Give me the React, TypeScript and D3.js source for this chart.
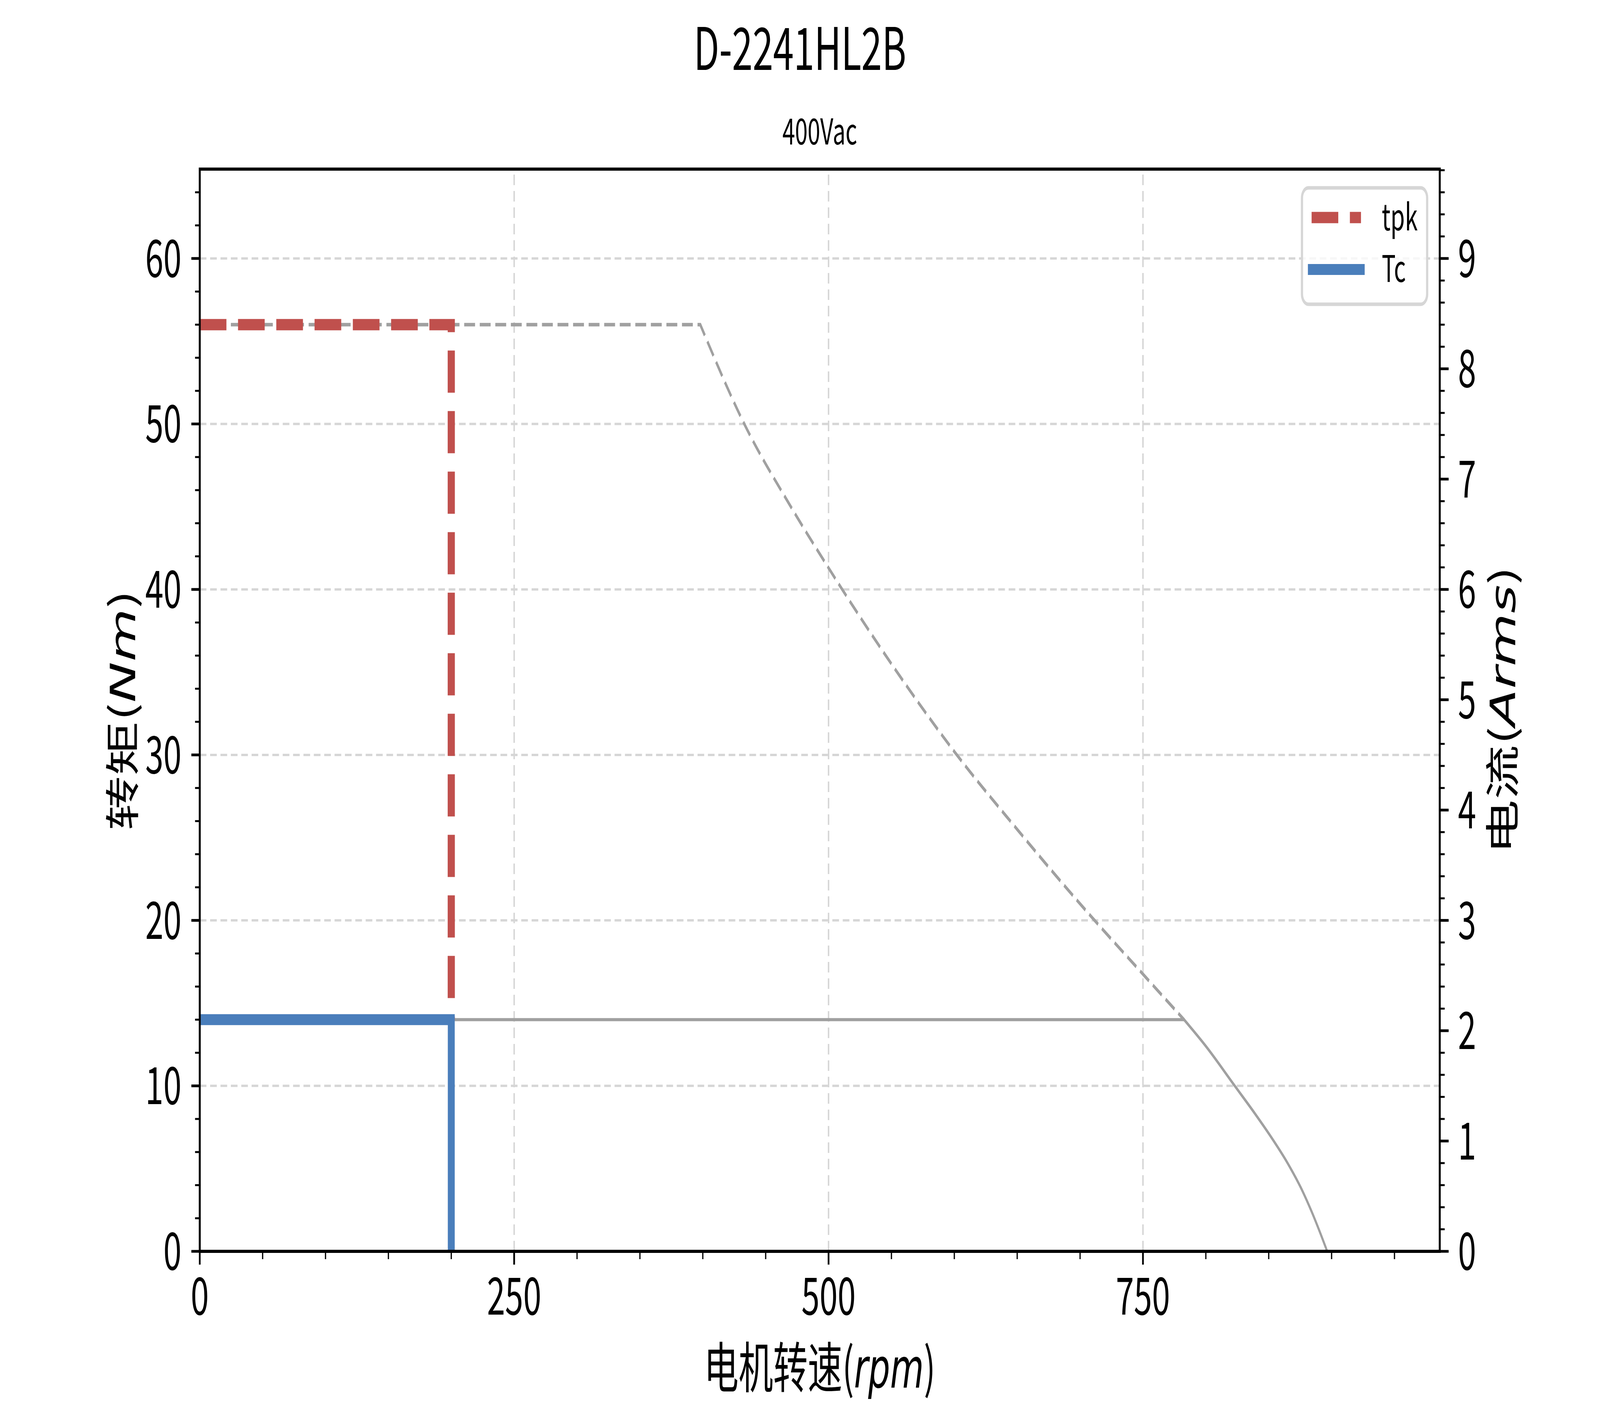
import React from "react";
import * as d3 from "d3";

// ---- data ----
const titleText = "D-2241HL2B";
const subtitleText = "400Vac";
const legendLabels = ["tpk", "Tc"];

// peak torque envelope (grey dashed)
const peakSpeed = [0, 398, 433, 470, 500, 550, 600, 650, 700, 750, 782.7];
const peakTorque = [56, 56, 50, 45.0, 41.3, 35.5, 30.2, 25.5, 21.0, 16.75, 14];

// continuous torque envelope (grey solid)
const contSpeed = [0, 782.7, 800.3, 823, 838.8, 851.1, 865.1, 875.6, 884.3, 890.5, 896.5];
const contTorque = [14, 14, 12.37, 10, 8.35, 7.0, 5.32, 3.84, 2.37, 1.2, 0];

// operating point lines
const tpkSpeed = [0, 200, 200];
const tpkTorque = [56, 56, 14];
const tcSpeed = [0, 200, 200];
const tcTorque = [14, 14, 0];

// axes
const xDomain = [0, 986];
const yLeftDomain = [0, 65.4];
const yRightDomain = [0, 9.81];
const xTickValues = [0, 250, 500, 750];
const yLeftTickValues = [0, 10, 20, 30, 40, 50, 60];
const yRightTickValues = [0, 1, 2, 3, 4, 5, 6, 7, 8, 9];

const W = 6480;
const H = 3600;
const L = 809;
const R = 5831;
const T = 433;
const B = 3204;

const CJK = '"Noto Sans CJK SC", sans-serif';
const MATH = '"DejaVu Sans", sans-serif';

export default function App() {
  const x = d3.scaleLinear().domain(xDomain).range([L, R]);
  const yL = d3.scaleLinear().domain(yLeftDomain).range([B, T]);
  const yR = d3.scaleLinear().domain(yRightDomain).range([B, T]);

  // straight first segment (flat), smooth monotone curve afterwards
  const envelope = (xs: number[], ys: number[]) => {
    const pts: [number, number][] = xs.map((v, i) => [x(v), yL(ys[i])]);
    const curve = d3.line().curve(d3.curveMonotoneX)(pts.slice(1)) as string;
    return `M${pts[0][0]},${pts[0][1]}L${pts[1][0]},${pts[1][1]}` + curve.replace(/^M[^LC]*/, "");
  };
  const line = (xs: number[], ys: number[]) =>
    d3
      .line<number>()
      .x((_, i) => x(xs[i]))
      .y((_, i) => yL(ys[i]))(xs) as string;

  const xMinor = d3.range(0, xDomain[1] + 0.001, 50).filter((v) => !xTickValues.includes(v));
  const yLMinor = d3.range(0, 33).map((i) => i * 2).filter((v) => v <= yLeftDomain[1] && v % 10 !== 0);
  const yRMinor = d3.range(0, 50).map((i) => +(i * 0.2).toFixed(1)).filter((v) => v <= yRightDomain[1] && Math.abs(v - Math.round(v)) > 1e-6);

  const gridColor = "#d6d6d6";
  const grey = "#a0a0a0";
  const red = "#c0504d";
  const blue = "#4a7ebb";

  return (
    <svg
      viewBox={`0 0 ${W} ${H}`}
      preserveAspectRatio="none"
      style={{ position: "fixed", left: 0, top: 0, width: "100vw", height: "100vh", background: "#fff", display: "block" }}
    >
      <rect x={0} y={0} width={W} height={H} fill="#fff" />
      <defs>
        <clipPath id="plotclip">
          <rect x={L} y={T} width={R - L} height={B - T} />
        </clipPath>
      </defs>

      {/* grid */}
      <g stroke={gridColor} strokeWidth={6} strokeDasharray="27 15">
        {xTickValues.filter((v) => v > 0).map((v) => (
          <line key={"gx" + v} x1={x(v)} x2={x(v)} y1={B} y2={T} />
        ))}
        {yLeftTickValues.filter((v) => v > 0).map((v) => (
          <line key={"gy" + v} x1={L} x2={R} y1={yL(v)} y2={yL(v)} />
        ))}
      </g>

      {/* curves */}
      <g clipPath="url(#plotclip)" fill="none">
        <path d={envelope(peakSpeed, peakTorque)} stroke={grey} strokeWidth={9} strokeDasharray="44 19" />
        <path d={envelope(contSpeed, contTorque)} stroke={grey} strokeWidth={8} />
        <path d={line(tpkSpeed, tpkTorque)} stroke={red} strokeWidth={29} strokeDasharray="108 47" />
        <path d={line(tcSpeed, tcTorque)} stroke={blue} strokeWidth={28} />
      </g>

      {/* spines */}
      <rect x={L} y={T} width={R - L} height={B - T} fill="none" stroke="#000" strokeWidth={8} />

      {/* ticks */}
      <g stroke="#000">
        {xTickValues.map((v) => (
          <line key={"xt" + v} x1={x(v)} x2={x(v)} y1={B} y2={B + 34} strokeWidth={7} />
        ))}
        {xMinor.map((v) => (
          <line key={"xm" + v} x1={x(v)} x2={x(v)} y1={B} y2={B + 20} strokeWidth={5} />
        ))}
        {yLeftTickValues.map((v) => (
          <line key={"yt" + v} x1={L - 34} x2={L} y1={yL(v)} y2={yL(v)} strokeWidth={7} />
        ))}
        {yLMinor.map((v) => (
          <line key={"ym" + v} x1={L - 19} x2={L} y1={yL(v)} y2={yL(v)} strokeWidth={5} />
        ))}
        {yRightTickValues.map((v) => (
          <line key={"rt" + v} x1={R} x2={R + 36} y1={yR(v)} y2={yR(v)} strokeWidth={7} />
        ))}
        {yRMinor.map((v) => (
          <line key={"rm" + v} x1={R} x2={R + 20} y1={yR(v)} y2={yR(v)} strokeWidth={5} />
        ))}
      </g>

      {/* tick labels */}
      <g fontFamily={CJK} fontSize={132} fill="#000">
        {xTickValues.map((v) => (
          <text key={"xl" + v} x={x(v)} y={3366} textAnchor="middle">
            {v}
          </text>
        ))}
        {yLeftTickValues.map((v) => (
          <text key={"yl" + v} x={735} y={yL(v) + 47} textAnchor="end">
            {v}
          </text>
        ))}
        {yRightTickValues.map((v) => (
          <text key={"rl" + v} x={5905} y={yR(v) + 47} textAnchor="start">
            {v}
          </text>
        ))}
      </g>

      {/* titles */}
      <text x={W / 2} y={179} fontFamily={CJK} fontSize={150} textAnchor="middle">
        {titleText}
      </text>
      <text x={(L + R) / 2} y={370} fontFamily={CJK} fontSize={92} textAnchor="middle">
        {subtitleText}
      </text>

      {/* axis labels */}
      <text x={(L + R) / 2} y={3553} fontFamily={CJK} fontSize={140} textAnchor="middle">
        电机转速(<tspan fontFamily={MATH} fontStyle="italic">rpm</tspan>)
      </text>
      <text transform={`translate(548, ${(T + B) / 2}) rotate(-90)`} fontFamily={CJK} fontSize={140} textAnchor="middle">
        转矩(<tspan fontFamily={MATH} fontStyle="italic">Nm</tspan>)
      </text>
      <text transform={`translate(6136, ${(T + B) / 2}) rotate(-90)`} fontFamily={CJK} fontSize={140} textAnchor="middle">
        电流(<tspan fontFamily={MATH} fontStyle="italic">Arms</tspan>)
      </text>

      {/* legend */}
      <rect x={5273} y={481} width={507} height={298} rx={26} ry={26} fill="#fff" fillOpacity={0.8} stroke="#d6d6d6" strokeWidth={9} />
      <line x1={5312} x2={5512} y1={557} y2={557} stroke={red} strokeWidth={29} strokeDasharray="108 47" />
      <line x1={5311} x2={5513} y1={690} y2={690} stroke={blue} strokeWidth={28} strokeLinecap="square" />
      <text x={5596} y={590} fontFamily={CJK} fontSize={94}>
        {legendLabels[0]}
      </text>
      <text x={5596} y={722} fontFamily={CJK} fontSize={94}>
        {legendLabels[1]}
      </text>
    </svg>
  );
}
